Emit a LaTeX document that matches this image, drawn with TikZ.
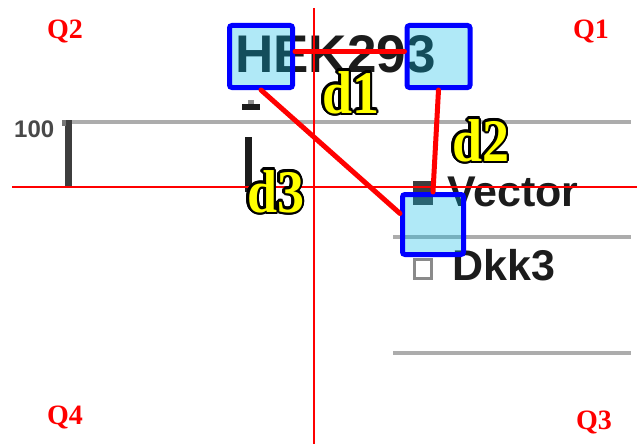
\documentclass[tikz,border=0pt]{standalone}
\usepackage{fontspec}
\setmainfont{Liberation Serif}
\newfontfamily\chartfont{Liberation Sans}
\usetikzlibrary{calc}

\definecolor{axisred}{RGB}{255,0,0}
\definecolor{markblue}{RGB}{0,0,255}
\definecolor{markfill}{RGB}{0,187,232}
\definecolor{labelyellow}{RGB}{255,255,0}
\definecolor{ink}{RGB}{28,28,28}
\definecolor{rule}{RGB}{172,172,172}

\tikzset{
  quad/.style={text=axisred, font=\fontsize{28}{28}\selectfont\bfseries,
    anchor=base west, inner sep=0},
  chart/.style={text=ink, font=\chartfont\bfseries\fontsize{#1}{#1}\selectfont,
    anchor=base west, inner sep=0},
  hit/.style={draw=markblue, line width=5pt, fill=markfill, fill opacity=0.31,
    draw opacity=1, rounded corners=2.5pt, minimum width=63pt,
    minimum height=62pt, inner sep=0},
  dist/.style={draw=axisred, line width=5pt, line cap=round},
  quadaxis/.style={draw=axisred, line width=2pt},
  gridrule/.style={draw=rule, line width=3.5pt},
  dlabel/.style={font=\fontsize{54}{54}\selectfont\bfseries,
    anchor=base west, inner sep=0},
}

% yellow label with a black outline made of offset copies
\newcommand\outlinedlabel[3]{%
  \foreach \a in {0,22.5,...,337.5}
    \node[dlabel, text=black] at ($(#2)+(\a:2.5pt)$) {\scalebox{1}[1.12]{#3}};
  \node[dlabel, text=labelyellow] (#1) at (#2) {\scalebox{1}[1.12]{#3}};
}

\begin{document}
\begin{tikzpicture}[x=1pt,y=-1pt]
\useasboundingbox (0,0) rectangle (637,444);
\fill[white] (0,0) rectangle (637,444);

% bar chart fragment in the background
\draw[gridrule] (68,122) -- (631,122);
\draw[gridrule] (393,237) -- (631,237);
\draw[gridrule] (393,353) -- (631,353);
\fill[ink!85] (65,120) rectangle (72,187);
\fill[ink!60] (62,120) rectangle (66,126);
\node[chart=24, text=ink!80] (ytick) at (14,137) {100};
\fill[ink] (242,104) rectangle (260,110);
\fill[ink!50] (248,100) rectangle (254,104);
\fill[ink] (245,137) rectangle (252,192);
\node[chart=53] (cell) at (235,73) {HEK293};
\fill[ink!85] (413,181) rectangle (433,205);
\node[chart=43] (vec) at (447,206) {Vector};
\draw[rule!80!black, line width=3pt] (414.5,259.5) rectangle (431.5,278.5);
\node[chart=43] (dkk) at (452,280) {Dkk3};

% quadrant axes and names
\draw[quadaxis] (12,187) -- (637,187);
\draw[quadaxis] (314,8) -- (314,444);
\node[quad] (q2) at (47,39) {Q2};
\node[quad] (q1) at (573,39) {Q1};
\node[quad] (q4) at (47,424) {Q4};
\node[quad] (q3) at (576,429) {Q3};

% marked regions
\node[hit] (b1) at (261,56.5) {};
\node[hit] (b2) at (438.5,56.5) {};
\node[hit, minimum width=61pt, minimum height=60pt] (b3) at (433,224.5) {};

% distances between them
\draw[dist] ([yshift=5pt]b1.east) -- ([yshift=5pt]b2.west);
\draw[dist] (b2.south) -- (b3.north);
\draw[dist] (b1.south) -- ([yshift=11pt]b3.west);

\outlinedlabel{lab1}{322,113}{d1}
\outlinedlabel{lab2}{452,161}{d2}
\outlinedlabel{lab3}{247,212}{d3}
\end{tikzpicture}
\end{document}
